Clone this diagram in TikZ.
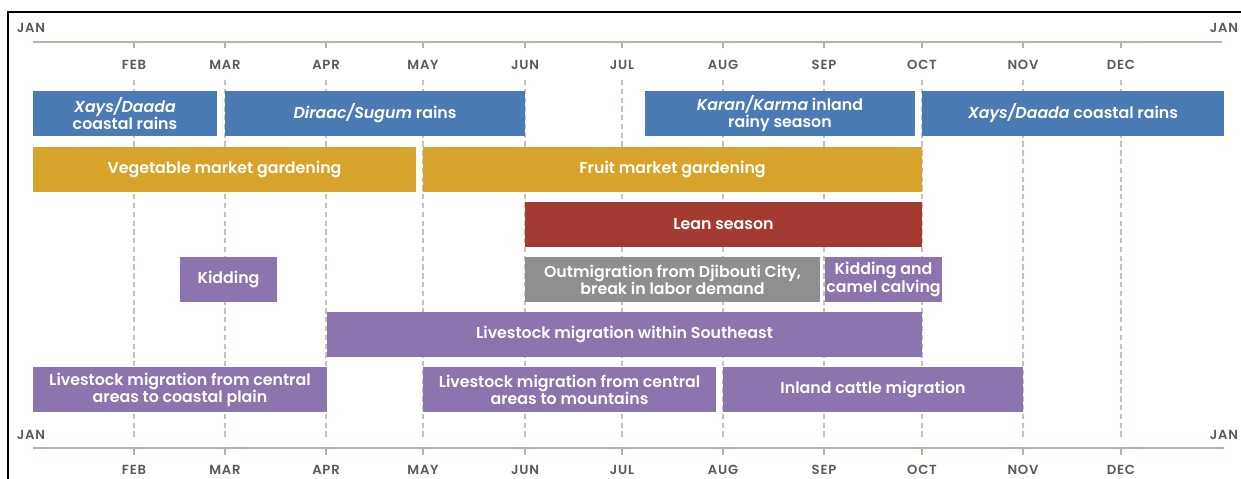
\documentclass[tikz,border=0pt]{standalone}
\usepackage{fontspec}
\setmainfont{Poppins}[BoldFont={Poppins SemiBold},BoldItalicFont={Poppins SemiBold Italic}]
\newfontfamily\monthfont{Poppins SemiBold}[LetterSpace=6]
\definecolor{rainblue}{HTML}{4B7BB4}
\definecolor{gardengold}{HTML}{D8A32A}
\definecolor{leanred}{HTML}{A43B33}
\definecolor{outgray}{HTML}{8F8F8F}
\definecolor{livepurple}{HTML}{8C74AE}
\definecolor{monthgray}{HTML}{5A5A5A}
\definecolor{axisbrown}{HTML}{BDB1A4}
\definecolor{gridgray}{HTML}{C9C2BA}

\begin{document}
\begin{tikzpicture}[x=0.02cm,y=-0.02cm]
\tikzset{bar/.style={fill=#1, text=white, font=\bfseries\fontsize{9}{9.8}\selectfont, align=center, inner sep=0pt, minimum height=0.9cm}}
\tikzset{month/.style={text=monthgray, font=\monthfont\fontsize{7.5}{8}\selectfont, inner sep=0pt}}
\tikzset{grid/.style={draw=gridgray, dash pattern=on 3pt off 2pt, line width=0.6pt}, axisline/.style={draw=axisbrown, line width=0.8pt}}
\useasboundingbox (0,0) rectangle (1241,479);
\draw[line width=1.2pt] (8,479) -- (8,12) -- (1241,12);
\draw[axisline] (33,42) -- (1222,42);
\draw[axisline] (33,448) -- (1224,448);
\node[month] (jantopleft) at (31,28) {JAN};
\node[month] (jantopright) at (1224,28) {JAN};
\node[month] (janbotleft) at (31,435) {JAN};
\node[month] (janbotright) at (1224,435) {JAN};
\foreach \x/\m in {134/FEB,225/MAR,326/APR,423/MAY,525/JUN,622/JUL,723/AUG,824/SEP,922/OCT,1023/NOV,1121/DEC}{
  \draw[grid] (\x,80) -- (\x,438);
  \draw[axisline] (\x,42) -- (\x,48) (\x,448) -- (\x,455);
  \node[month] (top\m) at (\x,65) {\m};
  \node[month] (bot\m) at (\x,470) {\m};
}
\node[bar=rainblue, minimum width=3.68cm] (xaysjan) at (125,113.5) {\textit{Xays/Daada}\\coastal rains};
\node[bar=rainblue, minimum width=6cm] (diraac) at (375,113.5) {\textit{Diraac/Sugum} rains};
\node[bar=rainblue, minimum width=5.4cm] (karan) at (780,113.5) {\textit{Karan/Karma} inland\\rainy season};
\node[bar=rainblue, minimum width=6.04cm] (xaysoct) at (1073,113.5) {\textit{Xays/Daada} coastal rains};
\node[bar=gardengold, minimum width=7.66cm] (vegetable) at (224.5,169.5) {Vegetable market gardening};
\node[bar=gardengold, minimum width=9.98cm] (fruit) at (672.5,169.5) {Fruit market gardening};
\node[bar=leanred, minimum width=7.94cm] (lean) at (723.5,224.5) {Lean season};
\node[bar=livepurple, minimum width=1.94cm] (kiddingmar) at (228.5,279.5) {Kidding};
\node[bar=outgray, minimum width=5.9cm] (outmigration) at (672.5,279.5) {Outmigration from Djibouti City,\\break in labor demand};
\node[bar=livepurple, minimum width=2.34cm] (kiddingsep) at (883.5,279.5) {Kidding and\\camel calving};
\node[bar=livepurple, minimum width=11.9cm] (southeast) at (624.5,334.5) {Livestock migration within Southeast};
\node[bar=livepurple, minimum width=5.88cm] (coastal) at (180,389.5) {Livestock migration from central\\areas to coastal plain};
\node[bar=livepurple, minimum width=5.86cm] (mountains) at (569.5,389.5) {Livestock migration from central\\areas to mountains};
\node[bar=livepurple, minimum width=6cm] (cattle) at (873,389.5) {Inland cattle migration};
\end{tikzpicture}
\end{document}
